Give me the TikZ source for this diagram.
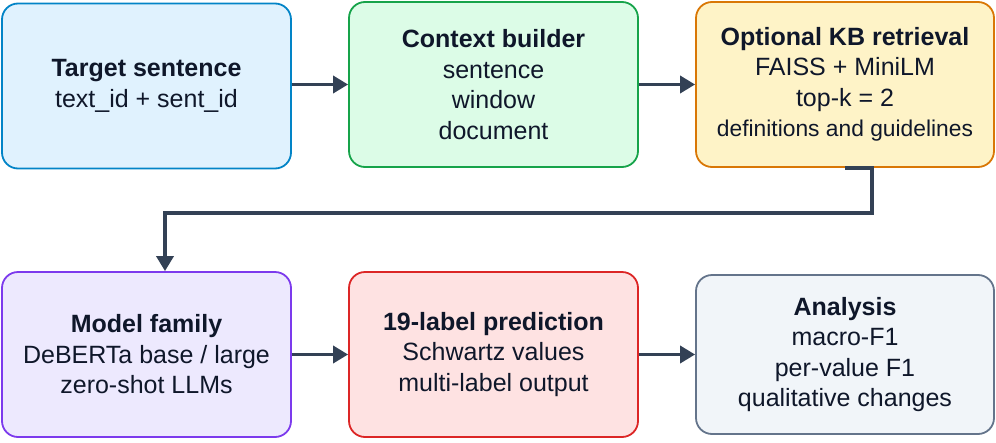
\documentclass[tikz,border=0pt]{standalone}
\usepackage{fontspec}
\setmainfont{Liberation Sans}
\usetikzlibrary{arrows.meta,calc}
\definecolor{txt}{HTML}{0F172A}
\definecolor{arr}{HTML}{334155}
\definecolor{f1}{HTML}{E0F2FE}\definecolor{d1}{HTML}{0284C7}
\definecolor{f2}{HTML}{DCFCE7}\definecolor{d2}{HTML}{16A34A}
\definecolor{f3}{HTML}{FEF3C7}\definecolor{d3}{HTML}{D97706}
\definecolor{f4}{HTML}{EDE9FE}\definecolor{d4}{HTML}{7C3AED}
\definecolor{f5}{HTML}{FEE2E2}\definecolor{d5}{HTML}{DC2626}
\definecolor{f6}{HTML}{F1F5F9}\definecolor{d6}{HTML}{64748B}
\tikzset{
  box/.style={draw, line width=1.8pt, rounded corners=16pt, align=center,
    text=txt, minimum width=289pt, minimum height=165pt, inner sep=0pt,
    font=\fontsize{25}{30.5}\selectfont},
  conn/.style={draw=arr, line width=3.5pt, -{Triangle[length=15pt,width=17pt]}},
}
\begin{document}
\begin{tikzpicture}[x=1pt,y=1pt]
\useasboundingbox (0,0) rectangle (996,-442);
\node[box, fill=f1, draw=d1] (b1) at (146.5,-86) {\textbf{Target sentence}\\text\_id + sent\_id};
\node[box, fill=f2, draw=d2] (b2) at (493.5,-84.5) {\textbf{Context builder}\\sentence\\window\\document};
\node[box, fill=f3, draw=d3, minimum width=298pt] (b3) at (845,-84.5) {\textbf{Optional KB retrieval}\\FAISS + MiniLM\\top-k = 2\\{\fontsize{22.8}{30.5}\selectfont definitions and guidelines}};
\node[box, fill=f4, draw=d4] (b4) at (146.5,-354.5) {\textbf{Model family}\\DeBERTa base / large\\zero-shot LLMs};
\node[box, fill=f5, draw=d5] (b5) at (493.5,-354.5) {\textbf{19-label prediction}\\Schwartz values\\multi-label output};
\node[box, fill=f6, draw=d6, minimum width=298pt, minimum height=159pt] (b6) at (845,-354.5) {\textbf{Analysis}\\macro-F1\\per-value F1\\qualitative changes};
\draw[conn] (b2.west -| b1.east) -- (b2.west);
\draw[conn] (b2.east) -- (b3.west);
\draw[conn] (b4.east) -- (b5.west);
\draw[conn] (b5.east) -- (b6.west);
\draw[conn, rounded corners=0pt] (b3.south) -- ++(27,0) -- ++(0,-45) -| ($(b4.north)+(18.5,0)$);
\end{tikzpicture}
\end{document}
